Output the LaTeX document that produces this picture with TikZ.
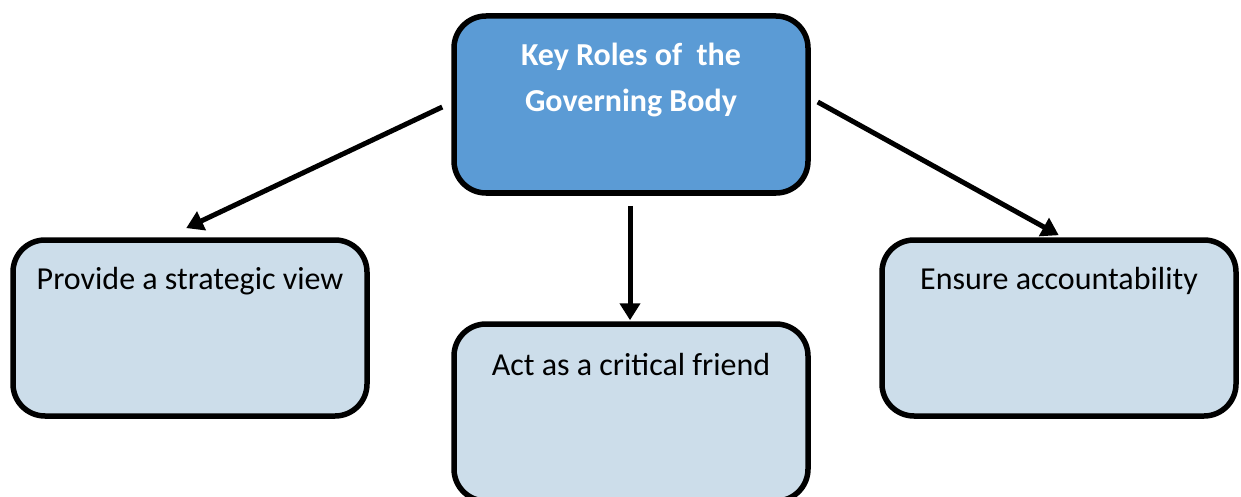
\documentclass[tikz,border=0pt]{standalone}
\usepackage{fontspec}
\setmainfont{Carlito}
\usetikzlibrary{arrows.meta,calc}
\definecolor{topblue}{HTML}{5B9BD5}
\definecolor{lightblue}{HTML}{CCDDEA}
\tikzset{
  box/.style={draw=black, line width=5.5pt, rounded corners=32pt, minimum width=354pt, minimum height=177pt, inner sep=0pt},
  boxtext/.style={font=\fontsize{32}{46}\selectfont, text=black, align=center},
  arr/.style={line width=5pt, -{Triangle[length=17pt,width=20pt]}, shorten >=-2pt}
}
\begin{document}
\begin{tikzpicture}[x=1pt,y=-1pt]
\useasboundingbox (0,0) rectangle (1241,497);
\begin{scope}
\clip (0,0) rectangle (1241,497);
\node[box, fill=topblue] (top) at (631,104.5) {};
\node[box, fill=lightblue, minimum height=176pt] (left) at (190,328) {};
\node[box, fill=lightblue] (mid) at (631,412.5) {};
\node[box, fill=lightblue, minimum height=176pt] (right) at (1059,328) {};
\end{scope}
\node[boxtext, text=white, font=\bfseries\fontsize{32}{46}\selectfont] (toptext) at ($(top.north)+(0,67)$) {Key Roles of~ the\\Governing Body};
\node[boxtext] (lefttext) at ($(left.north)+(0,44)$) {Provide a strategic view};
\node[boxtext] (midtext) at ($(mid.north)+(0,43)$) {Act as a critical friend};
\node[boxtext] (righttext) at ($(right.north)+(0,44)$) {Ensure accountability};
\coordinate (a1s) at ($(top.west)+(-9,2.5)$);
\coordinate (a1e) at ($(left.north)+(-2,-10)$);
\coordinate (a2s) at ($(top.south)+(-1,10)$);
\coordinate (a2e) at ($(mid.north)+(-1,-3)$);
\coordinate (a3s) at ($(top.east)+(7,-2.5)$);
\coordinate (a3e) at ($(right.north)+(-2,-3)$);
\draw[arr] (a1s) -- (a1e);
\draw[arr] (a2s) -- (a2e);
\draw[arr] (a3s) -- (a3e);
\end{tikzpicture}
\end{document}
